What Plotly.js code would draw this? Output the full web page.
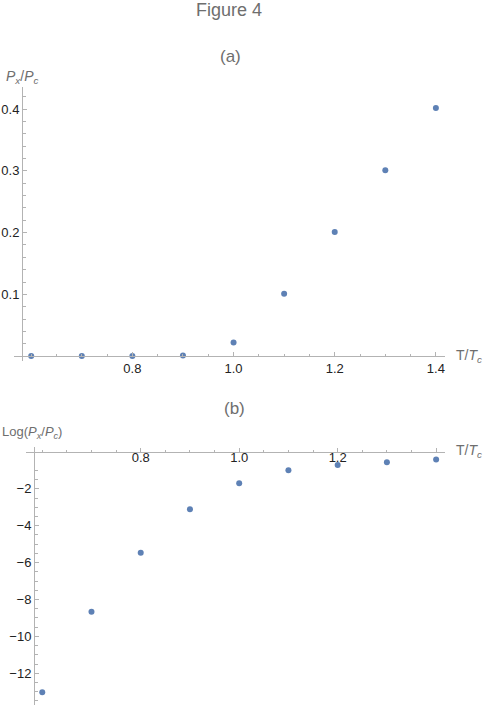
<!DOCTYPE html>
<html><head><meta charset="utf-8">
<script src="https://cdn.plot.ly/plotly-3.0.1.min.js"></script>
<style>body{margin:0;padding:0;background:#fff}#chart{width:485px;height:708px}</style>
</head><body><div id="chart"></div>
<script>
const tRatio = [0.6, 0.7, 0.8, 0.9, 1.0, 1.1, 1.2, 1.3, 1.4];
const pRatio = [0.0, 0.0, 0.0, 0.001, 0.022, 0.101, 0.201, 0.301, 0.402];
const logPRatio = [-13.03, -8.66, -5.46, -3.11, -1.69, -0.99, -0.70, -0.56, -0.41];
const xTickVals = [0.8, 1.0, 1.2, 1.4];
const xTickText = ["0.8", "1.0", "1.2", "1.4"];
const yTickValsA = [0.1, 0.2, 0.3, 0.4];
const yTickTextA = ["0.1", "0.2", "0.3", "0.4"];
const yTickValsB = [-12, -10, -8, -6, -4, -2];

const W = 485, H = 708;
const px = v => v / W;
const py = v => 1 - v / H;
const FONT = 'Arial, Liberation Sans, sans-serif';
const axisColor = '#b3b3b3';
const tickFont = {family: FONT, size: 13, color: '#222'};
const labelColor = '#6e6e6e';
const markerColor = '#5e81b5';

const traces = [
  {x: tRatio, y: pRatio, xaxis: 'x', yaxis: 'y', type: 'scatter', mode: 'markers',
   marker: {color: markerColor, size: 6}, cliponaxis: false, hoverinfo: 'none'},
  {x: tRatio, y: logPRatio, xaxis: 'x2', yaxis: 'y2', type: 'scatter', mode: 'markers',
   marker: {color: markerColor, size: 6}, cliponaxis: false, hoverinfo: 'none'}
];

const baseAxis = {
  showgrid: false, zeroline: false, showline: true, linecolor: axisColor, linewidth: 1,
  ticks: 'inside', ticklen: 4, tickcolor: axisColor, tickwidth: 1, tickfont: tickFont,
  fixedrange: true
};

const layout = {
  width: W, height: H, showlegend: false,
  paper_bgcolor: '#fff', plot_bgcolor: '#fff',
  font: {family: FONT, size: 13, color: '#222'},
  margin: {l: 0, r: 0, t: 0, b: 0},
  xaxis: Object.assign({}, baseAxis, {
    domain: [px(14), px(445)], range: [0.566, 1.418], anchor: 'free', position: py(356), side: 'bottom',
    tickvals: xTickVals, ticktext: xTickText, ticks: 'inside',
    minor: {dtick: 0.05, tick0: 0.6, ticklen: 2.5, tickcolor: axisColor, ticks: 'inside'}
  }),
  yaxis: Object.assign({}, baseAxis, {
    domain: [1 - 361 / H, 1 - 87 / H], range: [-0.008, 0.436], anchor: 'free', position: px(22), side: 'left',
    tickvals: yTickValsA, ticktext: yTickTextA,
    minor: {dtick: 0.02, tick0: 0, ticklen: 2.5, tickcolor: axisColor, ticks: 'inside'}
  }),
  xaxis2: Object.assign({}, baseAxis, {
    domain: [px(26), px(445)], range: [0.567, 1.418], anchor: 'free', position: py(452), side: 'top',
    ticks: 'outside', ticklabelposition: 'inside',
    tickvals: xTickVals, ticktext: xTickText,
    minor: {dtick: 0.05, tick0: 0.6, ticklen: 2.5, tickcolor: axisColor, ticks: 'outside'}
  }),
  yaxis2: Object.assign({}, baseAxis, {
    domain: [1 - 705 / H, 1 - 447 / H], range: [-13.72, 0.27], anchor: 'free', position: px(34), side: 'left',
    tickvals: yTickValsB,
    minor: {dtick: 0.5, tick0: 0, ticklen: 2.5, tickcolor: axisColor, ticks: 'inside'}
  }),
  annotations: [
    {text: 'Figure 4', x: px(229), y: py(10), xref: 'paper', yref: 'paper', showarrow: false,
     xanchor: 'center', yanchor: 'middle', font: {family: FONT, size: 18, color: labelColor}},
    {text: '(a)', x: px(230), y: py(56), xref: 'paper', yref: 'paper', showarrow: false,
     xanchor: 'center', yanchor: 'middle', font: {family: FONT, size: 17, color: labelColor}},
    {text: '(b)', x: px(234), y: py(408), xref: 'paper', yref: 'paper', showarrow: false,
     xanchor: 'center', yanchor: 'middle', font: {family: FONT, size: 17, color: labelColor}},
    {text: '<i>P</i><sub><i>x</i></sub>/<i>P</i><sub><i>c</i></sub>', x: px(4), y: py(77), xref: 'paper', yref: 'paper', showarrow: false,
     xanchor: 'left', yanchor: 'middle', font: {family: FONT, size: 14, color: labelColor}},
    {text: 'Log(<i>P</i><sub><i>x</i></sub>/<i>P</i><sub><i>c</i></sub>)', x: px(0), y: py(432), xref: 'paper', yref: 'paper', showarrow: false,
     xanchor: 'left', yanchor: 'middle', font: {family: FONT, size: 13, color: labelColor}},
    {text: 'T/<i>T</i><sub><i>c</i></sub>', x: px(454), y: py(356), xref: 'paper', yref: 'paper', showarrow: false,
     xanchor: 'left', yanchor: 'middle', font: {family: FONT, size: 14, color: labelColor}},
    {text: 'T/<i>T</i><sub><i>c</i></sub>', x: px(454), y: py(451), xref: 'paper', yref: 'paper', showarrow: false,
     xanchor: 'left', yanchor: 'middle', font: {family: FONT, size: 14, color: labelColor}}
  ]
};

Plotly.newPlot('chart', traces, layout, {displayModeBar: false});
</script></body></html>
